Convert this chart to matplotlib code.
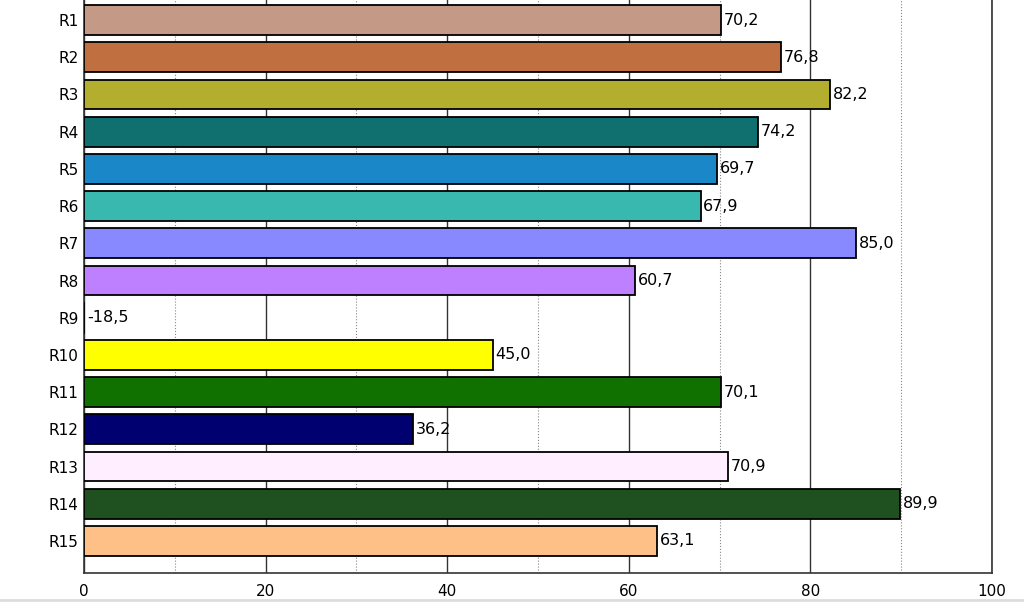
import matplotlib.pyplot as plt
import numpy as np
from matplotlib.lines import Line2D

plt.rcParams['font.family'] = ['DejaVu Sans']

labels = ['R1', 'R2', 'R3', 'R4', 'R5', 'R6', 'R7', 'R8', 'R9', 'R10',
          'R11', 'R12', 'R13', 'R14', 'R15']
values = [70.2, 76.8, 82.2, 74.2, 69.7, 67.9, 85.0, 60.7, -18.5, 45.0,
          70.1, 36.2, 70.9, 89.9, 63.1]
colors = ['#C49A86', '#C07040', '#B3AE2E', '#107070', '#1A88C8', '#38B8AE',
          '#8888FF', '#BF80FF', '#CCCCCC', '#FFFF00', '#107000', '#000070',
          '#FFEEFF', '#1E5020', '#FFC088']

fig = plt.figure(figsize=(10.24, 6.02), dpi=100)
ax = fig.add_axes([84/1024, 29/602, 908/1024, 585/602])

y = np.arange(len(labels))
ax.barh(y, values, height=0.8, color=colors, edgecolor='black', linewidth=1.3, zorder=3)

# value labels, decimal comma, R9 is negative so it sits at 0
for yi, v in zip(y, values):
    txt = '{:.1f}'.format(v).replace('.', ',')
    ax.annotate(txt, xy=(max(v, 0), yi), xytext=(2, 0), textcoords='offset points',
                va='center', ha='left', fontsize=11.5, zorder=4)

ax.set_xlim(0, 100)
ax.set_ylim(len(labels) - 1 + 0.86, -0.86)
ax.set_yticks(y)
ax.set_yticklabels(labels, fontsize=11)
ax.set_xticks(np.arange(0, 101, 20))
ax.set_xticks(np.arange(10, 100, 20), minor=True)
ax.tick_params(axis='both', which='both', length=0, labelsize=11)
ax.tick_params(axis='x', pad=8)
ax.tick_params(axis='y', pad=4)

ax.grid(axis='x', which='major', color='#333333', linewidth=1.0, zorder=1)
ax.grid(axis='x', which='minor', color='#888888', linewidth=0.8, linestyle=':', zorder=1)

ax.spines['top'].set_visible(False)
for s in ['left', 'right', 'bottom']:
    ax.spines[s].set_color('#333333')
    ax.spines[s].set_linewidth(1.2)

# faint line at the very bottom edge
fig.add_artist(Line2D([0, 1], [2/602, 2/602], color='#DDDDDD', linewidth=2, transform=fig.transFigure))

fig.savefig('out.png', dpi=100)
